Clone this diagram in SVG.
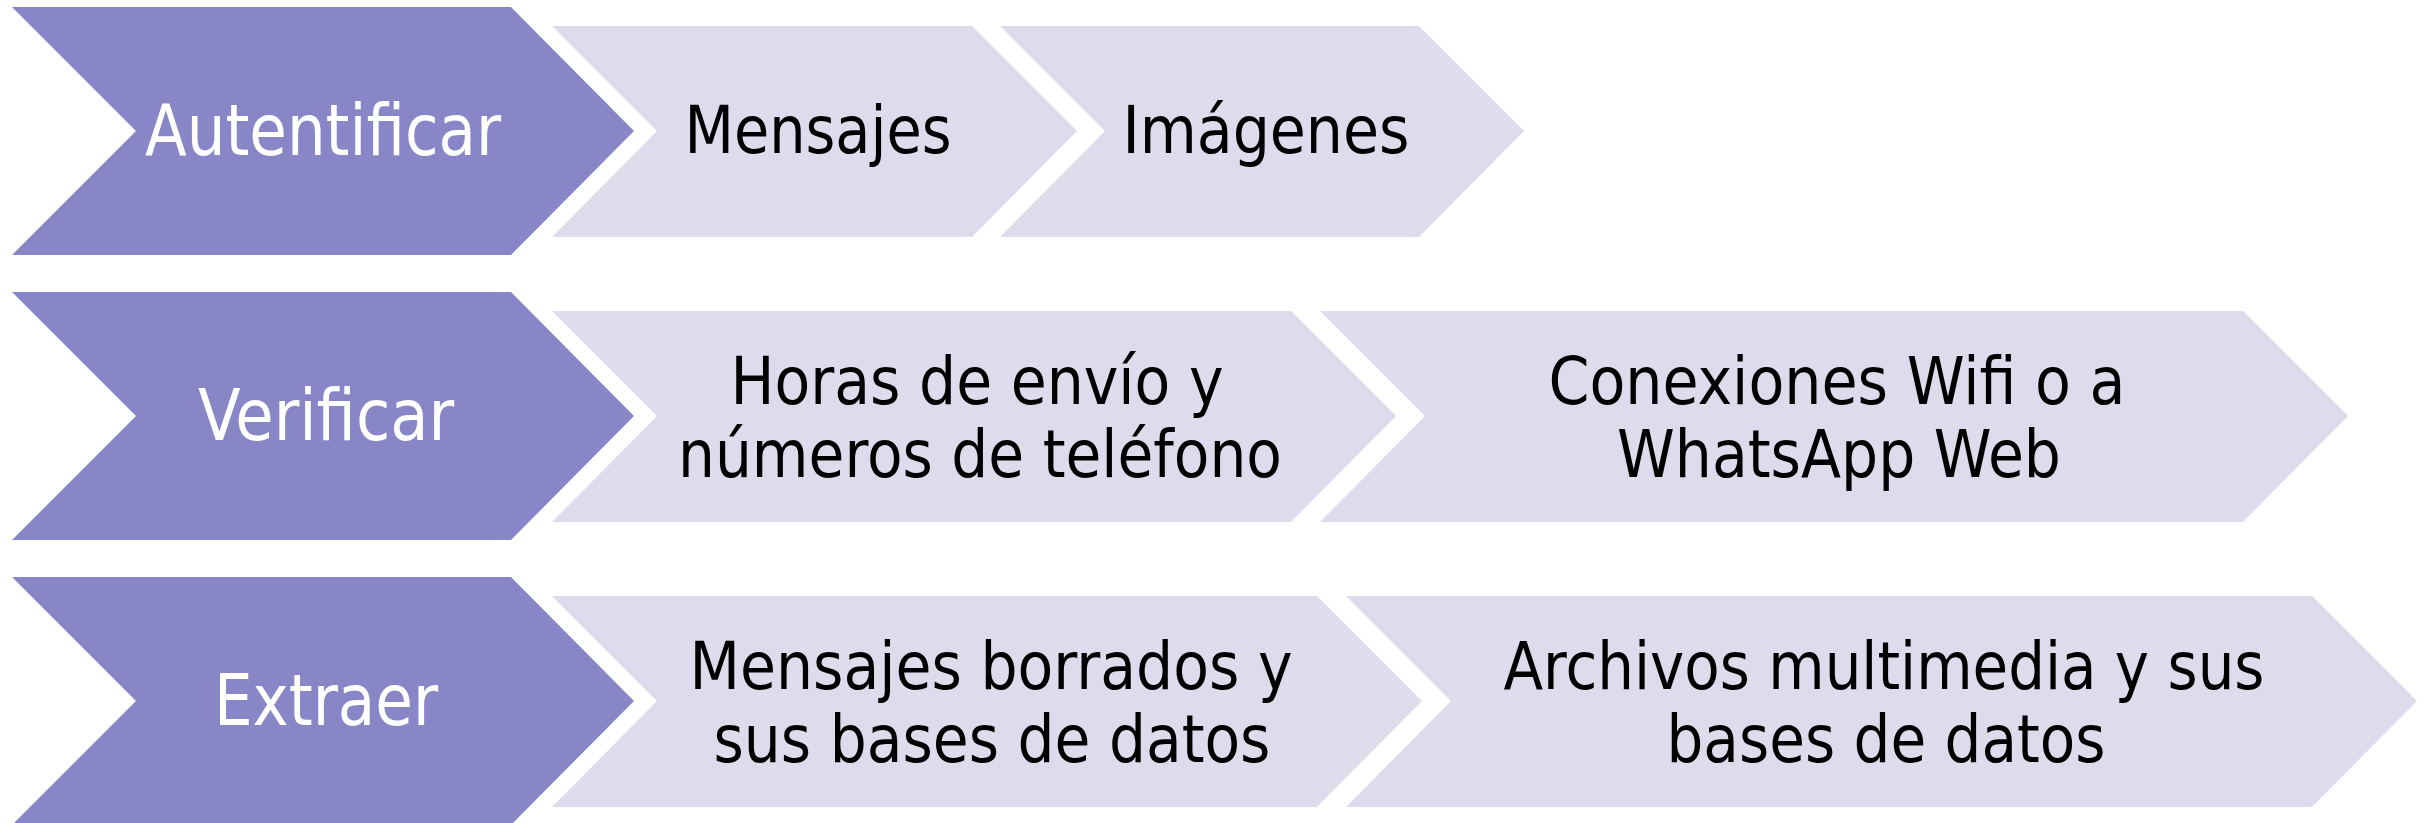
<svg xmlns="http://www.w3.org/2000/svg" width="2428" height="823" viewBox="0 0 2428 823">
<style>
.main{fill:#8886C6}
.sub{fill:#DDDCEC}
text{font-family:'DejaVu Sans Condensed','DejaVu Sans',sans-serif;text-anchor:middle}
.wt{fill:#FFFFFF;font-size:72px}
.bt{fill:#000000;font-size:66px}
</style>
<rect width="2428" height="823" fill="#FFFFFF"/>
<g id="connectors"></g>
<g id="row1">
<g id="autentificar">
<polygon class="main" points="12,7 511,7 634,131 511,255 12,255 136,131"/>
<text class="wt" x="323" y="155" textLength="356" lengthAdjust="spacingAndGlyphs">Autentificar</text>
</g>
<g id="mensajes">
<polygon class="sub" points="552,26 972,26 1077,131 972,237 552,237 657,131"/>
<text class="bt" x="818" y="153" textLength="267" lengthAdjust="spacingAndGlyphs">Mensajes</text>
</g>
<g id="imagenes">
<polygon class="sub" points="1000,26 1419,26 1524,131 1419,237 1000,237 1105,131"/>
<text class="bt" x="1266" y="153" textLength="287" lengthAdjust="spacingAndGlyphs">Imágenes</text>
</g>
</g>
<g id="row2">
<g id="verificar">
<polygon class="main" points="12,292 511,292 634,416 511,540 12,540 136,416"/>
<text class="wt" x="326" y="440" textLength="256" lengthAdjust="spacingAndGlyphs">Verificar</text>
</g>
<g id="horas">
<polygon class="sub" points="552,311 1291,311 1396,416 1291,522 552,522 657,416"/>
<text class="bt" x="977" y="404" textLength="493" lengthAdjust="spacingAndGlyphs">Horas de envío y</text>
<text class="bt" x="980" y="477" textLength="604" lengthAdjust="spacingAndGlyphs">números de teléfono</text>
</g>
<g id="conexiones">
<polygon class="sub" points="1320,311 2243,311 2348,416 2243,522 1320,522 1425,416"/>
<text class="bt" x="1837" y="404" textLength="577" lengthAdjust="spacingAndGlyphs">Conexiones Wifi o a</text>
<text class="bt" x="1839" y="477" textLength="444" lengthAdjust="spacingAndGlyphs">WhatsApp Web</text>
</g>
</g>
<g id="row3">
<g id="extraer">
<polygon class="main" points="12,577 511,577 634,701 511,825 12,825 136,701"/>
<text class="wt" x="326" y="725" textLength="224" lengthAdjust="spacingAndGlyphs">Extraer</text>
</g>
<g id="borrados">
<polygon class="sub" points="552,596 1317,596 1422,701 1317,807 552,807 657,701"/>
<text class="bt" x="991" y="689" textLength="603" lengthAdjust="spacingAndGlyphs">Mensajes borrados y</text>
<text class="bt" x="992" y="762" textLength="557" lengthAdjust="spacingAndGlyphs">sus bases de datos</text>
</g>
<g id="archivos">
<polygon class="sub" points="1346,596 2312,596 2417,701 2312,807 1346,807 1451,701"/>
<text class="bt" x="1884" y="689" textLength="761" lengthAdjust="spacingAndGlyphs">Archivos multimedia y sus</text>
<text class="bt" x="1886" y="762" textLength="439" lengthAdjust="spacingAndGlyphs">bases de datos</text>
</g>
</g>
</svg>
